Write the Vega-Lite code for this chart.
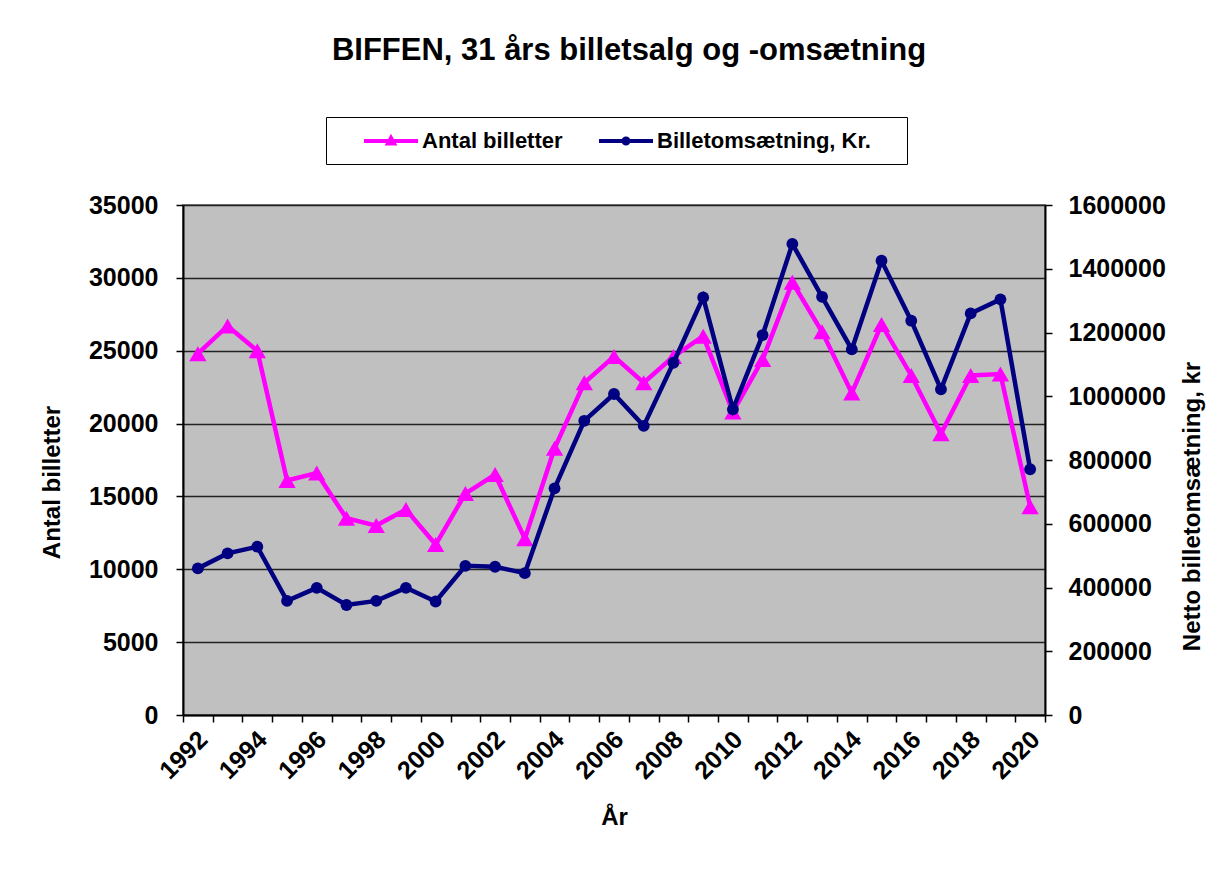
{
  "$schema": "https://vega.github.io/schema/vega-lite/v6.json",
  "width": 862,
  "height": 510,
  "autosize": "none",
  "padding": {"left": 183, "top": 205, "right": 187, "bottom": 160},
  "background": "white",
  "config": {
    "font": "Liberation Sans",
    "view": {"fill": "#C0C0C0", "stroke": "#808080", "strokeWidth": 2},
    "axis": {
      "labelFont": "Liberation Sans",
      "labelFontWeight": "bold",
      "labelFontSize": 25,
      "labelColor": "black",
      "titleFont": "Liberation Sans",
      "titleFontWeight": "bold",
      "titleFontSize": 24,
      "titleColor": "black",
      "domainColor": "black",
      "domainWidth": 2,
      "tickColor": "black",
      "tickWidth": 1.5,
      "tickSize": 7
    }
  },
  "title": {
    "text": "BIFFEN, 31 års billetsalg og -omsætning",
    "font": "Liberation Sans",
    "fontSize": 31,
    "fontWeight": "bold",
    "color": "black",
    "anchor": "middle",
    "frame": "group",
    "dx": 15,
    "offset": 50
  },
  "data": {
    "values": [
      {"year": 1992, "serie": "Antal billetter", "value": 24800},
      {"year": 1993, "serie": "Antal billetter", "value": 26700},
      {"year": 1994, "serie": "Antal billetter", "value": 25000},
      {"year": 1995, "serie": "Antal billetter", "value": 16100},
      {"year": 1996, "serie": "Antal billetter", "value": 16600},
      {"year": 1997, "serie": "Antal billetter", "value": 13500},
      {"year": 1998, "serie": "Antal billetter", "value": 13000},
      {"year": 1999, "serie": "Antal billetter", "value": 14100},
      {"year": 2000, "serie": "Antal billetter", "value": 11700},
      {"year": 2001, "serie": "Antal billetter", "value": 15200},
      {"year": 2002, "serie": "Antal billetter", "value": 16500},
      {"year": 2003, "serie": "Antal billetter", "value": 12100},
      {"year": 2004, "serie": "Antal billetter", "value": 18300},
      {"year": 2005, "serie": "Antal billetter", "value": 22800},
      {"year": 2006, "serie": "Antal billetter", "value": 24600},
      {"year": 2007, "serie": "Antal billetter", "value": 22800},
      {"year": 2008, "serie": "Antal billetter", "value": 24600},
      {"year": 2009, "serie": "Antal billetter", "value": 26000},
      {"year": 2010, "serie": "Antal billetter", "value": 20800},
      {"year": 2011, "serie": "Antal billetter", "value": 24400},
      {"year": 2012, "serie": "Antal billetter", "value": 29700},
      {"year": 2013, "serie": "Antal billetter", "value": 26300},
      {"year": 2014, "serie": "Antal billetter", "value": 22100},
      {"year": 2015, "serie": "Antal billetter", "value": 26800},
      {"year": 2016, "serie": "Antal billetter", "value": 23300},
      {"year": 2017, "serie": "Antal billetter", "value": 19300},
      {"year": 2018, "serie": "Antal billetter", "value": 23300},
      {"year": 2019, "serie": "Antal billetter", "value": 23400},
      {"year": 2020, "serie": "Antal billetter", "value": 14300},
      {"year": 1992, "serie": "Billetomsætning, Kr.", "value": 460000},
      {"year": 1993, "serie": "Billetomsætning, Kr.", "value": 507000},
      {"year": 1994, "serie": "Billetomsætning, Kr.", "value": 528000},
      {"year": 1995, "serie": "Billetomsætning, Kr.", "value": 358000},
      {"year": 1996, "serie": "Billetomsætning, Kr.", "value": 399000},
      {"year": 1997, "serie": "Billetomsætning, Kr.", "value": 345000},
      {"year": 1998, "serie": "Billetomsætning, Kr.", "value": 358000},
      {"year": 1999, "serie": "Billetomsætning, Kr.", "value": 399000},
      {"year": 2000, "serie": "Billetomsætning, Kr.", "value": 356000},
      {"year": 2001, "serie": "Billetomsætning, Kr.", "value": 468000},
      {"year": 2002, "serie": "Billetomsætning, Kr.", "value": 465000},
      {"year": 2003, "serie": "Billetomsætning, Kr.", "value": 445000},
      {"year": 2004, "serie": "Billetomsætning, Kr.", "value": 711000},
      {"year": 2005, "serie": "Billetomsætning, Kr.", "value": 923000},
      {"year": 2006, "serie": "Billetomsætning, Kr.", "value": 1007000},
      {"year": 2007, "serie": "Billetomsætning, Kr.", "value": 907000},
      {"year": 2008, "serie": "Billetomsætning, Kr.", "value": 1105000},
      {"year": 2009, "serie": "Billetomsætning, Kr.", "value": 1310000},
      {"year": 2010, "serie": "Billetomsætning, Kr.", "value": 959000},
      {"year": 2011, "serie": "Billetomsætning, Kr.", "value": 1192000},
      {"year": 2012, "serie": "Billetomsætning, Kr.", "value": 1478000},
      {"year": 2013, "serie": "Billetomsætning, Kr.", "value": 1312000},
      {"year": 2014, "serie": "Billetomsætning, Kr.", "value": 1147000},
      {"year": 2015, "serie": "Billetomsætning, Kr.", "value": 1425000},
      {"year": 2016, "serie": "Billetomsætning, Kr.", "value": 1237000},
      {"year": 2017, "serie": "Billetomsætning, Kr.", "value": 1022000},
      {"year": 2018, "serie": "Billetomsætning, Kr.", "value": 1260000},
      {"year": 2019, "serie": "Billetomsætning, Kr.", "value": 1304000},
      {"year": 2020, "serie": "Billetomsætning, Kr.", "value": 771000}
    ]
  },
  "encoding": {
    "x": {
      "field": "year",
      "type": "ordinal",
      "bandPosition": 0.5,
      "scale": {"type": "band", "paddingInner": 0, "paddingOuter": 0},
      "axis": {
        "title": "År",
        "labelAngle": -45,
        "labelAlign": "right",
        "labelBaseline": "middle",
        "labelPadding": 13,
        "labelOffset": 5,
        "labelExpr": "datum.value % 2 == 0 ? datum.label : ''",
        "tickBand": "extent",
        "grid": false,
        "titlePadding": 22
      }
    },
    "color": {
      "field": "serie",
      "type": "nominal",
      "scale": {"domain": ["Antal billetter", "Billetomsætning, Kr."], "range": ["#FF00FF", "#000080"]},
      "legend": {
        "title": " ",
        "titleOrient": "right",
        "titlePadding": 24,
        "titleFontSize": 22,
        "orient": "none",
        "legendX": 143,
        "legendY": -88,
        "direction": "horizontal",
        "strokeColor": "black",
        "fillColor": "white",
        "padding": 12,
        "symbolOffset": 41,
        "symbolSize": 400,
        "symbolStrokeWidth": 4,
        "labelFont": "Liberation Sans",
        "labelFontWeight": "bold",
        "labelFontSize": 22,
        "labelColor": "black",
        "labelOffset": 19,
        "columnPadding": 10,
        "labelLimit": 400,
        "encode": {
          "symbols": {
            "update": {
              "shape": {"signal": "datum.value === 'Antal billetter' ? 'M-2.7,0L2.7,0M-0.3,0.25L0,-0.3L0.3,0.25Z' : 'M-2.7,0L2.7,0M-0.25,0A0.25,0.25,0,1,1,0.25,0A0.25,0.25,0,1,1,-0.25,0Z'"},
              "fill": {"signal": "datum.value === 'Antal billetter' ? '#FF00FF' : '#000080'"},
              "stroke": {"signal": "datum.value === 'Antal billetter' ? '#FF00FF' : '#000080'"},
              "strokeWidth": {"value": 4},
              "fillOpacity": {"value": 1},
              "opacity": {"value": 1}
            }
          }
        }
      }
    }
  },
  "layer": [
    {
      "transform": [{"filter": "datum.serie === 'Antal billetter'"}],
      "mark": {"type": "line", "strokeWidth": 4.5, "point": {"shape": "triangle-up", "size": 300, "filled": true, "opacity": 1}},
      "encoding": {
        "y": {
          "field": "value",
          "type": "quantitative",
          "scale": {"domain": [0, 35000], "nice": false},
          "axis": {
            "title": "Antal billetter",
            "orient": "left",
            "values": [0, 5000, 10000, 15000, 20000, 25000, 30000, 35000],
            "format": "d",
            "grid": true,
            "gridColor": "#222222",
            "gridWidth": 1.5,
            "labelPadding": 18,
            "titleAngle": 270,
            "titleAlign": "center",
            "titleBaseline": "middle",
            "titleX": -131,
            "titleY": 277
          }
        }
      }
    },
    {
      "transform": [{"filter": "datum.serie === 'Billetomsætning, Kr.'"}],
      "mark": {"type": "line", "strokeWidth": 4.5, "point": {"shape": "circle", "size": 140, "filled": true, "opacity": 1}},
      "encoding": {
        "y": {
          "field": "value",
          "type": "quantitative",
          "scale": {"domain": [0, 1600000], "nice": false},
          "axis": {
            "title": "Netto billetomsætning, kr",
            "orient": "right",
            "values": [0, 200000, 400000, 600000, 800000, 1000000, 1200000, 1400000, 1600000],
            "format": "d",
            "grid": false,
            "labelPadding": 16,
            "titleAngle": 270,
            "titleAlign": "center",
            "titleBaseline": "middle",
            "titleX": 147,
            "titleY": 301
          }
        }
      }
    }
  ],
  "resolve": {"scale": {"y": "independent"}}
}
